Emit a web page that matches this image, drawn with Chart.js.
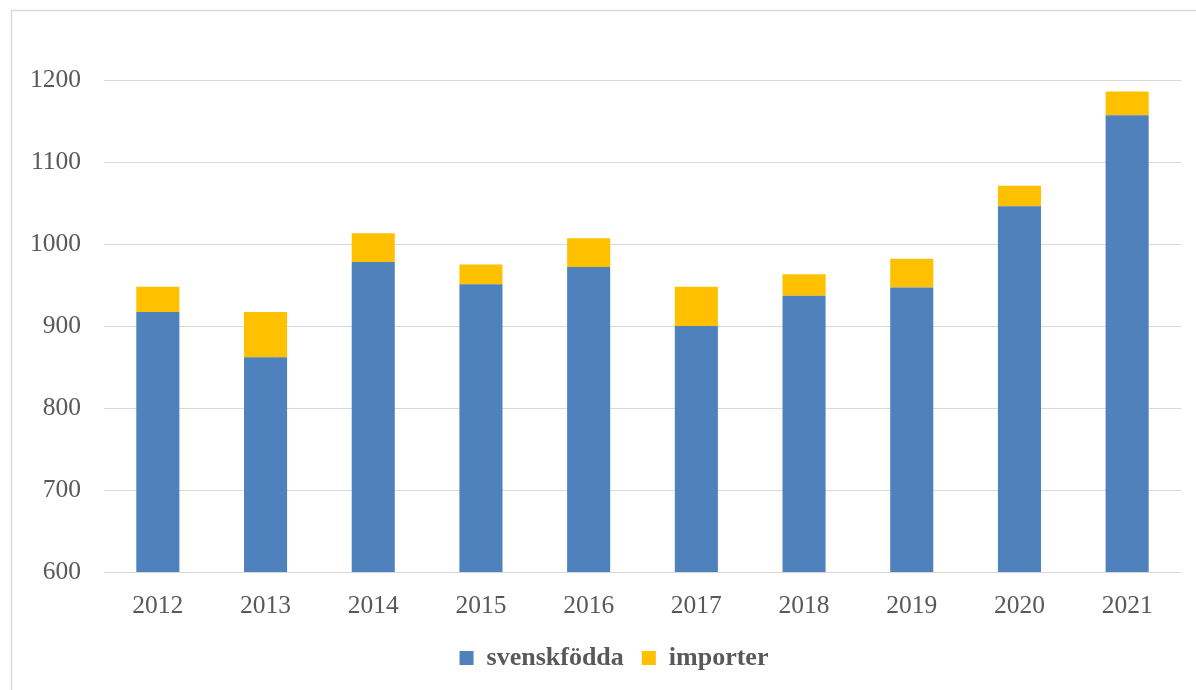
<!DOCTYPE html>
<html>
<head>
<meta charset="utf-8">
<script src="https://cdn.jsdelivr.net/npm/chart.js@4/dist/chart.umd.min.js"></script>
<style>
  html, body { margin: 0; padding: 0; background: #ffffff; }
  #wrap { position: relative; width: 1196px; height: 690px; }
</style>
</head>
<body>
<div id="wrap"><canvas id="c" width="1196" height="690"></canvas></div>
<script>
const years = ['2012', '2013', '2014', '2015', '2016', '2017', '2018', '2019', '2020', '2021'];
const svenskfodda = [917, 862, 978, 951, 972, 900, 937, 947, 1046, 1157];
const importer = [31, 55, 35, 24, 35, 48, 26, 35, 25, 29];
const yMin = 600, yMax = 1200, yStep = 100;

const textColor = '#595959';
const gridColor = '#D9D9D9';

const framePlugin = {
  id: 'frame',
  afterLayout(chart) {
    // centre the legend within the (wider) chart frame
    if (chart.legend) {
      chart.legend.left += 23.5;
      chart.legend.right += 23.5;
    }
  },
  beforeDraw(chart) {
    const ctx = chart.ctx;
    ctx.save();
    ctx.fillStyle = '#ffffff';
    ctx.fillRect(0, 0, chart.width, chart.height);
    ctx.strokeStyle = '#D9D9D9';
    ctx.lineWidth = 1.5;
    ctx.beginPath();
    ctx.moveTo(11.5, chart.height);
    ctx.lineTo(11.5, 10.5);
    ctx.lineTo(chart.width, 10.5);
    ctx.stroke();
    ctx.restore();
  }
};

new Chart(document.getElementById('c'), {
  type: 'bar',
  data: {
    labels: years,
    datasets: [
      { label: 'svenskfödda', data: svenskfodda, backgroundColor: '#4F81BD', borderWidth: 0 },
      { label: 'importer', data: importer, backgroundColor: '#FFC000', borderWidth: 0 }
    ]
  },
  options: {
    responsive: false,
    animation: false,
    devicePixelRatio: 1,
    datasets: { bar: { barPercentage: 0.4, categoryPercentage: 1.0 } },
    layout: { padding: { left: 0, right: 15, top: 80, bottom: 9 } },
    plugins: {
      tooltip: { enabled: false },
      legend: {
        position: 'bottom',
        labels: {
          boxWidth: 14,
          boxHeight: 14,
          padding: 18,
          color: textColor,
          font: { family: 'Liberation Serif', size: 26, weight: 'bold' }
        }
      }
    },
    scales: {
      x: {
        stacked: true,
        grid: { display: false, drawTicks: false },
        border: { display: false },
        ticks: {
          padding: 19,
          color: textColor,
          font: { family: 'Liberation Serif', size: 25.5 }
        },
        afterFit(s) { s.height = 55; }
      },
      y: {
        stacked: true,
        min: yMin,
        max: yMax,
        grid: { color: gridColor, lineWidth: 1, drawTicks: false },
        border: { display: false },
        ticks: {
          stepSize: yStep,
          padding: 23,
          color: textColor,
          font: { family: 'Liberation Serif', size: 25.5 },
          callback: (v) => String(v)
        },
        afterFit(s) { s.width = 104; }
      }
    }
  },
  plugins: [framePlugin]
});
</script>
</body>
</html>
